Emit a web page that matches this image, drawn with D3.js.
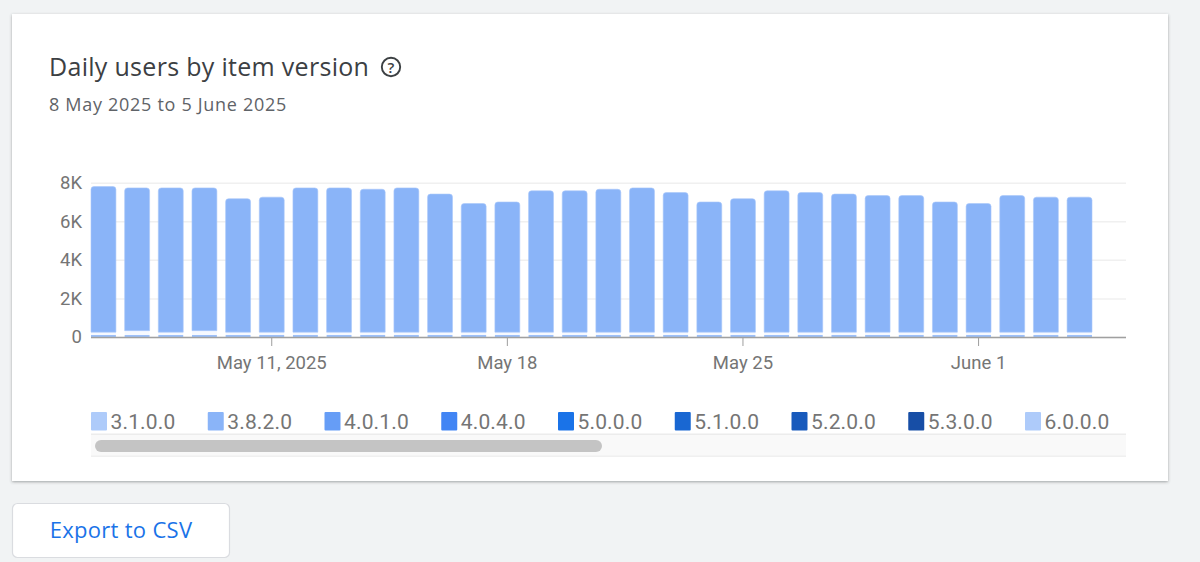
<!DOCTYPE html>
<html><head><meta charset="utf-8">
<script src="https://cdn.jsdelivr.net/npm/d3@7"></script>
<style>html,body{margin:0;padding:0;background:#f1f3f4;overflow:hidden}svg{display:block}</style>
</head><body><div id="chart"></div>
<script>
const categories=["May 6","May 7","May 8","May 9","May 10","May 11","May 12","May 13","May 14","May 15","May 16","May 17","May 18","May 19","May 20","May 21","May 22","May 23","May 24","May 25","May 26","May 27","May 28","May 29","May 30","May 31","June 1","June 2","June 3","June 4"];
const bottomBand=[110,110,110,110,110,110,110,110,110,110,110,110,110,110,110,110,110,110,110,110,110,110,110,110,110,110,110,110,110,110];
const thinBand=[140,220,140,220,140,140,140,140,140,140,140,140,140,140,140,140,140,140,140,140,140,140,140,140,140,140,140,140,140,140];
const mainSeries=[7550,7400,7480,7400,6920,7000,7480,7480,7410,7480,7160,6670,6750,7330,7330,7410,7480,7240,6750,6920,7330,7240,7160,7080,7080,6750,6670,7080,7000,7000];
const legendNames=["3.1.0.0","3.8.2.0","4.0.1.0","4.0.4.0","5.0.0.0","5.1.0.0","5.2.0.0","5.3.0.0","6.0.0.0"];
const legendColors=["#aecbfa","#8ab4f8","#669df6","#4285f4","#1a73e8","#1967d2","#185abc","#174ea6","#aecbfa"];
const yTicks=[0,2000,4000,6000,8000];
const xTickValues=["May 11","May 18","May 25","June 1"];
const xTickLabels=["May 11, 2025","May 18","May 25","June 1"];

const svg=d3.select("#chart").append("svg").attr("width",1200).attr("height",562);
const defs=svg.append("defs");
const f=defs.append("filter").attr("id","sh").attr("x","-2%").attr("y","-2%").attr("width","104%").attr("height","104%");
f.append("feDropShadow").attr("dx",0).attr("dy",1).attr("stdDeviation",1.6).attr("flood-color","#3c4043").attr("flood-opacity",.45);

svg.append("rect").attr("x",12).attr("y",14).attr("width",1156).attr("height",467).attr("fill","#fff").attr("filter","url(#sh)");

svg.append("text").attr("x",49).attr("y",76).attr("font-family","'Open Sans',sans-serif").attr("font-size",25).attr("letter-spacing",.3).attr("fill","#3c4043").text("Daily users by item version");
svg.append("circle").attr("cx",391).attr("cy",67).attr("r",9.2).attr("fill","none").attr("stroke","#3c4043").attr("stroke-width",1.9);
svg.append("text").attr("x",391).attr("y",72.5).attr("text-anchor","middle").attr("font-family","'Open Sans',sans-serif").attr("font-size",15).attr("font-weight",600).attr("fill","#3c4043").text("?");
svg.append("text").attr("x",49).attr("y",111).attr("font-family","'Open Sans',sans-serif").attr("font-size",18).attr("letter-spacing",.7).attr("fill","#5f6368").text("8 May 2025 to 5 June 2025");

const x=d3.scaleBand().domain(categories).range([91,1092]).paddingInner(.26).paddingOuter(0);
const y=d3.scaleLinear().domain([0,8000]).range([337,182.7]);

const yAxis=d3.axisLeft(y).tickValues(yTicks).tickFormat(d=>d===0?"0":(d/1000)+"K").tickSize(0).tickPadding(9);
const gy=svg.append("g").attr("transform","translate(91,0)").call(yAxis);
gy.select(".domain").remove();
gy.selectAll("text").attr("font-family","Roboto,sans-serif").attr("font-size",18.5).attr("fill","#757575");
gy.selectAll(".tick line").attr("x1",0).attr("x2",1035).attr("stroke","#f0f0f0").attr("stroke-width",1.5);

const stackData=categories.map((c,i)=>({c,low:bottomBand[i],thin:thinBand[i],main:mainSeries[i]}));
const stack=d3.stack().keys(["low","thin","main"])(stackData);
const fill={low:"#9dc0f9",thin:"#f6f9ff",main:"#8ab4f8"};
function topRounded(x0,w,yt,yb,r){
  const p=d3.path();
  p.moveTo(x0,yb);p.lineTo(x0,yt+r);p.quadraticCurveTo(x0,yt,x0+r,yt);
  p.lineTo(x0+w-r,yt);p.quadraticCurveTo(x0+w,yt,x0+w,yt+r);p.lineTo(x0+w,yb);p.closePath();
  return p.toString();
}
stack.forEach(s=>{
  svg.append("g").selectAll("path").data(s).join("path")
    .attr("d",d=>{
      const yt=y(d[1]),yb=y(d[0]);
      return topRounded(x(d.data.c),x.bandwidth(),yt,yb,s.key==="main"?3:0);
    })
    .attr("fill",fill[s.key])
    .attr("stroke",s.key==="main"?"#a9c8fa":"none").attr("stroke-width",s.key==="main"?.6:0);
});

const xAxis=d3.axisBottom(x).tickValues(xTickValues).tickFormat(d=>xTickLabels[xTickValues.indexOf(d)]).tickSize(9).tickSizeOuter(0).tickPadding(10);
const gx=svg.append("g").attr("transform","translate(0,337)").call(xAxis);
gx.select(".domain").remove();
gx.selectAll("text").attr("font-family","Roboto,sans-serif").attr("font-size",18.5).attr("fill","#757575");
gx.selectAll(".tick line").attr("stroke","#9e9e9e").attr("stroke-width",1);
svg.append("line").attr("x1",91).attr("x2",1126).attr("y1",337.5).attr("y2",337.5).attr("stroke","#a0a0a0").attr("stroke-width",1.6);

const legendX=d3.scalePoint().domain(legendNames).range([91,1025]);
const lg=svg.append("g").selectAll("g").data(legendNames).join("g").attr("transform",d=>`translate(${legendX(d)},0)`);
lg.append("rect").attr("x",0).attr("y",412).attr("width",16).attr("height",18.5).attr("rx",1).attr("fill",(d,i)=>legendColors[i]);
lg.append("text").attr("x",19.5).attr("y",429).attr("font-family","Roboto,sans-serif").attr("font-size",21).attr("letter-spacing",.15).attr("fill","#757575").text(d=>d);

svg.append("rect").attr("x",91).attr("y",434).attr("width",1035).attr("height",23).attr("fill","#f9f9f9");
svg.append("line").attr("x1",91).attr("x2",1126).attr("y1",434.3).attr("y2",434.3).attr("stroke","#ececec").attr("stroke-width",1.5);
svg.append("line").attr("x1",91).attr("x2",1126).attr("y1",456.3).attr("y2",456.3).attr("stroke","#f0f0f0").attr("stroke-width",1.5);
svg.append("rect").attr("x",95).attr("y",440).attr("width",507).attr("height",12).attr("rx",6).attr("fill","#c4c4c4");

svg.append("rect").attr("x",12.5).attr("y",503.5).attr("width",217).attr("height",54).attr("rx",5).attr("fill","#fff").attr("stroke","#dadce0").attr("stroke-width",1.2);
svg.append("text").attr("x",121).attr("y",538).attr("text-anchor","middle").attr("font-family","'Open Sans',sans-serif").attr("font-size",22).attr("letter-spacing",.3).attr("fill","#1a73e8").text("Export to CSV");
</script></body></html>
